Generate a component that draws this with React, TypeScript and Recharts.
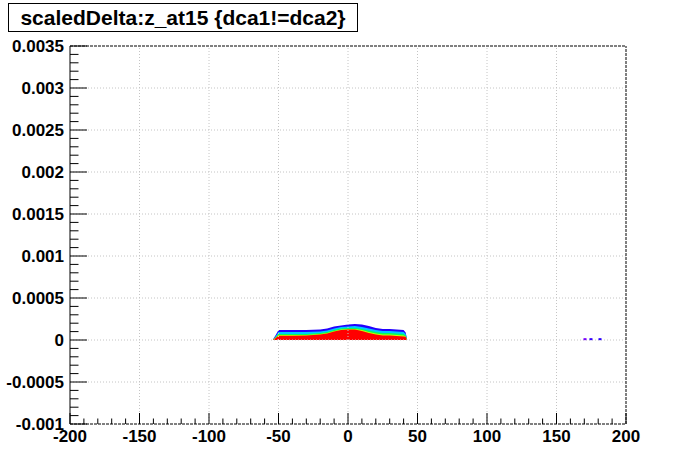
import * as React from "react"
import {Area, ComposedChart, ReferenceLine, Scatter, XAxis, YAxis} from "recharts"

// z_at15 sample positions and top edge of each colour band of the 2D histogram
const zAt15 = [-54, -52, -50, -40, -30, -20, -15, -10, -5, 0, 5, 10, 15, 20, 25, 30, 35, 40, 41.5, 42.5]
const blueTop = [0.000005, 0.00006, 0.000119, 0.000119, 0.000119, 0.000125, 0.000137, 0.000161, 0.000173, 0.000184, 0.00019, 0.000184, 0.000167, 0.000143, 0.000131, 0.000131, 0.000125, 0.000119, 0.00009, 0.00001]
const cyanTop = [0.000004, 0.000045, 0.000095, 0.000095, 0.000095, 0.000101, 0.000113, 0.000137, 0.000155, 0.000161, 0.000167, 0.000155, 0.000137, 0.000119, 0.000107, 0.000107, 0.000101, 0.000095, 0.00007, 0.000008]
const greenTop = [0.000003, 0.000035, 0.000071, 0.000071, 0.000071, 0.000083, 0.000095, 0.000119, 0.000137, 0.000143, 0.000143, 0.000131, 0.000113, 0.000095, 0.000083, 0.000083, 0.000077, 0.000071, 0.000055, 0.000006]
const yellowTop = [0.000002, 0.00003, 0.00006, 0.00006, 0.00006, 0.000071, 0.000083, 0.000107, 0.000125, 0.000131, 0.000131, 0.000119, 0.000095, 0.000077, 0.000065, 0.000065, 0.00006, 0.000054, 0.000045, 0.000005]
const redTop = [0.000001, 0.000025, 0.000051, 0.000051, 0.000054, 0.000065, 0.000077, 0.000101, 0.000119, 0.000125, 0.000125, 0.000107, 0.000083, 0.000065, 0.000054, 0.000054, 0.000048, 0.000042, 0.000038, 0.000004]

// a few lone filled bins far to the right
const strayZ = [170.5, 174.8, 181.3]
const strayValue = [0.00001, 0.00001, 0.00001]
const strayColor = ["#7a00ff", "#3300ff", "#2a00ff"]

const xTickLabels = [-200, -150, -100, -50, 0, 50, 100, 150, 200]
const yTickLabels = [-0.001, -0.0005, 0, 0.0005, 0.001, 0.0015, 0.002, 0.0025, 0.003, 0.0035]

const title = "scaledDelta:z_at15 {dca1!=dca2}"
const font = "'Liberation Sans', Arial, sans-serif"

const histData = zAt15.map((z, i) => ({
    z,
    blue: blueTop[i],
    cyan: cyanTop[i],
    green: greenTop[i],
    yellow: yellowTop[i],
    red: redTop[i],
}))
const strayData = strayZ.map((z, i) => ({z, v: strayValue[i], color: strayColor[i]}))

// major ticks from the label arrays, minor ticks split each step in 5
function withMinor(major: number[], scale: number) {
    const out: number[] = []
    for (let i = 0; i < major.length - 1; i++) {
        const a = Math.round(major[i] * scale)
        const b = Math.round(major[i + 1] * scale)
        for (let k = 0; k < 5; k++) out.push((a + (b - a) * k / 5) / scale)
    }
    out.push(major[major.length - 1])
    return out
}
const xTicks = withMinor(xTickLabels, 1)
const yTicks = withMinor(yTickLabels, 10000)

const isMajor = (v: number, list: number[]) => list.some((m) => Math.abs(m - v) < 1e-9)

const XTick = (props: any) => {
    const {x, y, payload} = props
    const v = payload.value
    const major = isMajor(v, xTickLabels)
    return (
        <g>
            <line x1={x} x2={x} y1={y} y2={y - (major ? 11 : 5.5)} stroke="#000"/>
            {major && (
                <text x={x} y={y + 18} textAnchor="middle" fontFamily={font} fontWeight="bold" fontSize={17} fill="#000">
                    {v}
                </text>
            )}
        </g>
    )
}

const YTick = (props: any) => {
    const {x, y, payload} = props
    const v = payload.value
    const major = isMajor(v, yTickLabels)
    return (
        <g>
            <line x1={x} x2={x + (major ? 17 : 8.5)} y1={y} y2={y} stroke="#000"/>
            {major && (
                <text x={x - 6} y={y} dy="0.35em" textAnchor="end" fontFamily={font} fontWeight="bold" fontSize={17} fill="#000">
                    {String(Number(v.toFixed(4)))}
                </text>
            )}
        </g>
    )
}

const StrayBin = (props: any) => {
    const {cx, cy, payload} = props
    return <rect x={cx - 1.5} y={cy - 1} width={3} height={2} fill={payload.color}/>
}

const grid = {stroke: "#c4c4c4", strokeDasharray: "1 2", strokeWidth: 1}

export default function App() {
    return (
        <div style={{position: "absolute", left: 0, top: 0, width: 696, height: 472, background: "#fff"}}>
            <ComposedChart
                width={696}
                height={472}
                data={histData}
                margin={{top: 46, right: 70, bottom: 0, left: 0}}
            >
                <XAxis
                    dataKey="z"
                    type="number"
                    domain={[-200, 200]}
                    allowDataOverflow
                    ticks={xTicks}
                    interval={0}
                    height={48}
                    tickSize={0}
                    tickMargin={0}
                    tickLine={false}
                    tick={<XTick/>}
                    axisLine={{stroke: "#000", strokeDasharray: "3 1"}}
                />
                <YAxis
                    type="number"
                    domain={[-0.001, 0.0035]}
                    allowDataOverflow
                    ticks={yTicks}
                    interval={0}
                    width={70}
                    tickSize={0}
                    tickMargin={0}
                    tickLine={false}
                    tick={<YTick/>}
                    axisLine={{stroke: "#000"}}
                />
                <Area type="linear" dataKey="blue" stroke="none" fill="#2200ff" fillOpacity={1} baseValue={0} isAnimationActive={false}/>
                <Area type="linear" dataKey="cyan" stroke="none" fill="#00c8ff" fillOpacity={1} baseValue={0} isAnimationActive={false}/>
                <Area type="linear" dataKey="green" stroke="none" fill="#00ff5a" fillOpacity={1} baseValue={0} isAnimationActive={false}/>
                <Area type="linear" dataKey="yellow" stroke="none" fill="#c8ff00" fillOpacity={1} baseValue={0} isAnimationActive={false}/>
                <Area type="linear" dataKey="red" stroke="none" fill="#ff0000" fillOpacity={1} baseValue={0} isAnimationActive={false}/>
                <Scatter data={strayData} dataKey="v" shape={<StrayBin/>} isAnimationActive={false}/>
                {xTickLabels.slice(1, -1).map((v) => (
                    <ReferenceLine key={"gx" + v} x={v} {...grid}/>
                ))}
                {yTickLabels.slice(1, -1).map((v) => (
                    <ReferenceLine key={"gy" + v} y={v} {...grid}/>
                ))}
                <ReferenceLine y={0.0035} stroke="#000" strokeDasharray="3 1"/>
                <ReferenceLine x={200} stroke="#000" strokeDasharray="3 1"/>
            </ComposedChart>
            <div
                style={{
                    position: "absolute",
                    left: 8,
                    top: 3,
                    width: 348,
                    height: 27,
                    border: "1px solid #000",
                    background: "#fff",
                    fontFamily: font,
                    fontWeight: "bold",
                    fontSize: 21,
                    lineHeight: "27px",
                    textAlign: "center",
                    whiteSpace: "nowrap",
                }}
            >
                {title}
            </div>
        </div>
    )
}
